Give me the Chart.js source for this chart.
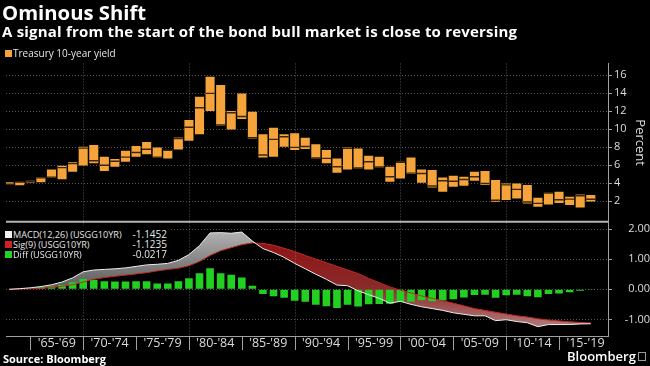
<!DOCTYPE html>
<html>
<head>
<meta charset="utf-8">
<script src="https://cdn.jsdelivr.net/npm/chart.js@4.4.1/dist/chart.umd.min.js"></script>
<style>
html, body { margin: 0; padding: 0; background: #000; }
#wrap { position: relative; width: 650px; height: 366px; overflow: hidden; background: #000; font-family: "Open Sans", sans-serif; color: #fff; }
#chart { position: absolute; left: 0; top: 0; }
.t { position: absolute; white-space: nowrap; line-height: 1; }
.title { left: 2px; top: 1.5px; font-size: 20.3px; font-weight: 700; }
.sub { left: 2px; top: 24px; font-size: 15px; font-weight: 700; letter-spacing: 0.2px; }
.leg { font-size: 10px; color: #e6e6e6; }
.narrow { font-size: 9.7px; transform: scaleX(0.94); transform-origin: 0 0; }
.sq { position: absolute; width: 7px; height: 7px; }
#macdLegend { position: absolute; left: 2px; top: 226px; width: 168px; height: 34px; background: #000; }
.val { position: absolute; font-size: 10px; line-height: 1; color: #e6e6e6; text-align: right; width: 60px; }
.src { left: 3px; top: 353px; font-size: 11px; font-weight: 700; }
.brand { left: 567px; top: 350px; font-size: 13px; font-weight: 600; }
.logo { position: absolute; left: 638px; top: 352px; width: 8px; height: 9px; border: 1px solid #9a9a9a; box-sizing: border-box; }
</style>
</head>
<body>
<div id="wrap">
  <canvas id="chart" width="650" height="366"></canvas>
  <div class="t title">Ominous Shift</div>
  <div class="t sub">A signal from the start of the bond bull market is close to reversing</div>

  <div class="sq" style="left:5px;top:50px;background:#f4a43a"></div>
  <div class="t leg" style="left:13px;top:48px">Treasury 10-year yield</div>

  <div id="macdLegend">
    <div class="sq" style="left:3px;top:5px;background:#f2f2f2"></div>
    <div class="t leg narrow" style="left:11px;top:3.5px">MACD(12,26) (USGG10YR)</div>
    <div class="val" style="left:105px;top:3px">-1.1452</div>
    <div class="sq" style="left:3px;top:15px;background:#d42020"></div>
    <div class="t leg narrow" style="left:11px;top:13.5px">Sig(9) (USGG10YR)</div>
    <div class="val" style="left:105px;top:13px">-1.1235</div>
    <div class="sq" style="left:3px;top:25px;background:#22d422"></div>
    <div class="t leg narrow" style="left:11px;top:23.5px">Diff (USGG10YR)</div>
    <div class="val" style="left:105px;top:23px">-0.0217</div>
  </div>

  <div class="t src">Source: Bloomberg</div>
  <div class="t brand">Bloomberg</div>
  <div class="logo"></div>
</div>

<script>
// annual bars, 1962 - 2017
const years = [1962, 1963, 1964, 1965, 1966, 1967, 1968, 1969, 1970, 1971,
    1972, 1973, 1974, 1975, 1976, 1977, 1978, 1979, 1980, 1981,
    1982, 1983, 1984, 1985, 1986, 1987, 1988, 1989, 1990, 1991,
    1992, 1993, 1994, 1995, 1996, 1997, 1998, 1999, 2000, 2001,
    2002, 2003, 2004, 2005, 2006, 2007, 2008, 2009, 2010, 2011,
    2012, 2013, 2014, 2015, 2016, 2017];

// Treasury 10-year yield, yearly low / high / close (percent)
const yieldLow = [3.85, 3.76, 4.06, 4.10, 4.62, 4.42, 5.27, 5.95, 6.20, 5.35,
    5.82, 6.38, 6.93, 7.19, 6.85, 6.74, 7.74, 8.70, 9.41, 12.00,
    10.37, 9.96, 11.11, 8.96, 6.85, 6.93, 8.04, 7.67, 7.78, 6.74,
    6.19, 5.15, 5.52, 5.63, 5.52, 5.74, 4.15, 4.52, 5.00, 4.04,
    3.52, 3.04, 3.60, 3.70, 4.26, 3.78, 1.93, 2.11, 2.30, 1.74,
    1.37, 1.63, 1.80, 1.56, 1.30, 1.95];
const yieldHigh = [4.08, 4.13, 4.26, 4.62, 5.52, 5.92, 6.30, 8.04, 8.22, 6.93,
    6.67, 7.59, 8.11, 8.56, 7.96, 7.67, 9.07, 11.00, 13.59, 15.81,
    14.89, 12.00, 13.96, 11.93, 9.41, 10.15, 9.41, 9.52, 9.04, 8.30,
    7.67, 6.74, 7.96, 7.85, 7.04, 6.93, 5.81, 6.37, 6.85, 5.52,
    5.44, 4.63, 4.82, 4.70, 5.26, 5.33, 4.33, 3.96, 3.96, 3.78,
    2.37, 2.92, 3.03, 2.48, 2.74, 2.67];
const yieldClose = [3.87, 4.12, 4.20, 4.58, 4.66, 5.72, 6.16, 7.88, 6.48, 5.98,
    6.42, 6.88, 7.40, 7.76, 6.88, 7.64, 8.95, 10.20, 12.37, 13.96,
    10.45, 11.81, 11.40, 9.05, 7.11, 8.85, 9.15, 7.96, 8.07, 6.78,
    6.74, 5.81, 7.85, 5.68, 6.37, 5.78, 4.70, 6.30, 5.11, 5.07,
    3.67, 4.26, 4.20, 4.40, 4.70, 3.95, 2.10, 3.80, 3.30, 1.90,
    1.75, 2.88, 2.15, 2.22, 2.60, 2.20];

// MACD(12,26), Sig(9) and Diff of USGG10YR
const macd = [0.00, 0.02, 0.05, 0.09, 0.15, 0.24, 0.38, 0.58, 0.64, 0.66,
    0.68, 0.71, 0.76, 0.81, 0.83, 0.86, 0.96, 1.15, 1.45, 1.87,
    1.88, 1.86, 1.90, 1.60, 1.35, 1.22, 1.06, 0.86, 0.68, 0.50,
    0.33, 0.14, 0.12, -0.05, -0.18, -0.30, -0.46, -0.40, -0.50, -0.58,
    -0.64, -0.70, -0.78, -0.83, -0.88, -0.88, -1.04, -1.01, -1.07, -1.11,
    -1.24, -1.17, -1.17, -1.17, -1.15, -1.145];
const signal = [0.00, 0.01, 0.02, 0.03, 0.06, 0.10, 0.15, 0.24, 0.33, 0.39,
    0.43, 0.47, 0.51, 0.55, 0.61, 0.66, 0.70, 0.78, 0.92, 1.12,
    1.28, 1.38, 1.48, 1.54, 1.52, 1.46, 1.36, 1.25, 1.12, 1.00,
    0.88, 0.76, 0.64, 0.52, 0.36, 0.22, 0.08, -0.03, -0.12, -0.22,
    -0.30, -0.38, -0.46, -0.55, -0.64, -0.70, -0.76, -0.82, -0.88, -0.92,
    -0.98, -1.02, -1.05, -1.08, -1.10, -1.12];
const diff = [0.00, 0.01, 0.03, 0.07, 0.09, 0.14, 0.23, 0.34, 0.31, 0.27,
    0.26, 0.26, 0.27, 0.27, 0.19, 0.19, 0.27, 0.37, 0.53, 0.70,
    0.53, 0.48, 0.39, 0.12, -0.16, -0.23, -0.28, -0.38, -0.41, -0.51,
    -0.56, -0.62, -0.51, -0.57, -0.50, -0.49, -0.48, -0.42, -0.41, -0.36,
    -0.40, -0.37, -0.33, -0.27, -0.19, -0.18, -0.28, -0.20, -0.18, -0.23,
    -0.26, -0.16, -0.14, -0.10, -0.05, -0.02];

// axis ticks
const periodStarts = [1965, 1970, 1975, 1980, 1985, 1990, 1995, 2000, 2005, 2010, 2015];
const periodLabels = ["'65-'69", "'70-'74", "'75-'79", "'80-'84", "'85-'89", "'90-'94",
    "'95-'99", "'00-'04", "'05-'09", "'10-'14", "'15-'19"];
const decadeLines = [1970, 1980, 1990, 2000, 2010];
const yieldTicks = [2, 4, 6, 8, 10, 12, 14, 16];
const macdTicks = [-1, 0, 1, 2];

Chart.defaults.font.family = '"Open Sans", sans-serif';
Chart.defaults.color = "#dcdcdc";

const canvas = document.getElementById("chart");
const ctx = canvas.getContext("2d");

const greyFill = ctx.createLinearGradient(0, 228, 0, 292);
greyFill.addColorStop(0, "#b8b8b8");
greyFill.addColorStop(1, "#555555");
const redFill = ctx.createLinearGradient(0, 236, 0, 330);
redFill.addColorStop(0, "#8f1010");
redFill.addColorStop(0.55, "#8a2a2a");
redFill.addColorStop(1, "#b58080");

// bloomberg stamps each annual bar on the last day of its year
const stamp = years.map(y => y + 1);
const pts = (vals) => vals.map((v, i) => ({ x: stamp[i], y: v }));

const gridGrey = "rgba(140,140,140,0.6)";
const axisGrey = "#a0a0a0";

// decade grid lines, 5-year separators under the axis, and the panel divider
const periodGrid = {
    id: "periodGrid",
    beforeDatasetsDraw(chart) {
        const x = chart.scales.x, a = chart.chartArea, c = chart.ctx;
        c.save();
        c.strokeStyle = gridGrey;
        c.lineWidth = 1;
        c.setLineDash([1, 2]);
        decadeLines.forEach(v => {
            const px = Math.round(x.getPixelForValue(v)) + 0.5;
            c.beginPath();
            c.moveTo(px, a.top);
            c.lineTo(px, a.bottom);
            c.stroke();
        });
        c.restore();
    },
    afterDraw(chart) {
        const x = chart.scales.x, a = chart.chartArea, c = chart.ctx;
        c.save();
        c.strokeStyle = axisGrey;
        c.lineWidth = 1;
        periodStarts.forEach(v => {
            const px = Math.round(x.getPixelForValue(v)) + 0.5;
            c.beginPath();
            c.moveTo(px, a.bottom);
            c.lineTo(px, a.bottom + 14);
            c.stroke();
        });
        c.strokeStyle = "#b5b5b5";
        c.lineWidth = 2;
        const top2 = chart.scales.y2.top;
        c.beginPath();
        c.moveTo(a.left, top2);
        c.lineTo(a.right, top2);
        c.stroke();
        c.restore();
    }
};

new Chart(ctx, {
    data: {
        datasets: [{
            type: "bar",
            label: "Treasury 10-year yield",
            data: years.map((y, i) => ({ x: stamp[i], y: [yieldLow[i], yieldHigh[i]] })),
            yAxisID: "y",
            backgroundColor: "#f4a43a",
            barPercentage: 0.86,
            categoryPercentage: 1,
            grouped: false,
            order: 5
        }, {
            type: "line",
            label: "close",
            data: pts(yieldClose),
            yAxisID: "y",
            showLine: false,
            pointStyle: "line",
            pointRadius: 4.6,
            pointBorderWidth: 1.4,
            pointBorderColor: "#3b2408",
            order: 4
        }, {
            type: "bar",
            label: "Diff (USGG10YR)",
            data: pts(diff),
            yAxisID: "y2",
            backgroundColor: "#22d022",
            barPercentage: 0.72,
            categoryPercentage: 1,
            grouped: false,
            order: 3
        }, {
            type: "line",
            label: "Sig(9) (USGG10YR)",
            data: pts(signal),
            yAxisID: "y2",
            borderColor: "#c4281f",
            borderWidth: 1,
            pointRadius: 0,
            tension: 0,
            fill: false,
            order: 2
        }, {
            type: "line",
            label: "MACD(12,26) (USGG10YR)",
            data: pts(macd),
            yAxisID: "y2",
            borderColor: "#ececec",
            borderWidth: 1,
            pointRadius: 0,
            tension: 0,
            fill: { target: 3, above: greyFill, below: redFill },
            order: 1
        }]
    },
    options: {
        responsive: false,
        animation: false,
        layout: { padding: { top: 63.5, left: 0, right: 0, bottom: 0 } },
        plugins: {
            legend: { display: false },
            tooltip: { enabled: false },
            filler: { drawTime: "beforeDatasetsDraw" }
        },
        scales: {
            x: {
                type: "linear",
                offset: false,
                min: 1962.7,
                max: 2019.63,
                // one label in the middle of each 5-year block
                afterBuildTicks: (s) => { s.ticks = periodStarts.map(v => ({ value: v + 2.5 })); },
                afterFit: (s) => { s.height = 30; },
                grid: { display: false, drawTicks: false },
                border: { display: true, color: axisGrey },
                ticks: {
                    autoSkip: false,
                    maxRotation: 0,
                    padding: -0.5,
                    font: { size: 12.5 },
                    callback: (v) => periodLabels[periodStarts.indexOf(v - 2.5)] || ""
                }
            },
            y: {
                position: "right",
                stack: "panels",
                stackWeight: 158,
                min: -0.3,
                max: 17.28,
                afterBuildTicks: (s) => { s.ticks = yieldTicks.map(v => ({ value: v })); },
                afterFit: (s) => { s.width = 42; },
                grid: { color: gridGrey, tickColor: axisGrey, tickLength: 4, tickBorderDash: [] },
                border: { color: axisGrey, dash: [1, 2] },
                ticks: { autoSkip: false, padding: 2, font: { size: 11 }, callback: (v) => v },
                title: { display: true, text: "Percent", font: { size: 13 }, padding: { top: 2, bottom: 2 } }
            },
            y2: {
                position: "right",
                stack: "panels",
                stackWeight: 114,
                min: -1.55,
                max: 2.24,
                afterBuildTicks: (s) => { s.ticks = macdTicks.map(v => ({ value: v })); },
                afterFit: (s) => { s.width = 42; },
                grid: { color: gridGrey, tickColor: axisGrey, tickLength: 4, tickBorderDash: [] },
                border: { color: axisGrey, dash: [1, 2] },
                ticks: { autoSkip: false, padding: 1, crossAlign: "far", font: { size: 11 }, callback: (v) => v.toFixed(2) }
            }
        }
    },
    plugins: [periodGrid]
});
</script>
</body>
</html>
